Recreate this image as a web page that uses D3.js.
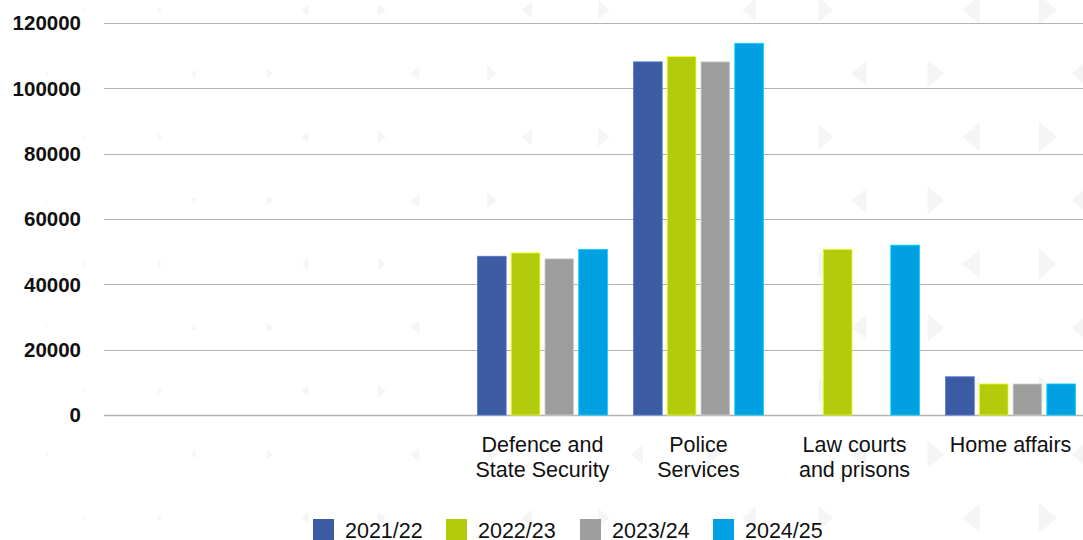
<!DOCTYPE html>
<html>
<head>
<meta charset="utf-8">
<script src="https://cdn.jsdelivr.net/npm/d3@7"></script>
<style>
  html, body { margin: 0; padding: 0; background: #fff; }
  svg { display: block; font-family: "Liberation Sans", Arial, sans-serif; }
</style>
</head>
<body>
<div class="container"></div>
<script>
const WIDTH = 1083
const HEIGHT = 540

// data
const categories = ['Defence and State Security', 'Police Services', 'Law courts and prisons', 'Home affairs']
const categoryLines = [['Defence and', 'State Security'], ['Police', 'Services'], ['Law courts', 'and prisons'], ['Home affairs']]
const years = ['2021/22', '2022/23', '2023/24', '2024/25']
const values2021 = [48600, 108100, null, 11700]
const values2022 = [49600, 109700, 50700, 9500]
const values2023 = [47800, 108100, null, 9500]
const values2024 = [50700, 113800, 52000, 9500]
const seriesValues = [values2021, values2022, values2023, values2024]
const colors = ['#3c5ba3', '#b2cb0b', '#9d9d9d', '#00a0e3']
const yTicks = [0, 20000, 40000, 60000, 80000, 100000, 120000]

const plotLeft = 104
const plotRight = 1083
const plotTop = 23
const plotBottom = 415

const svg = d3.select('.container').append('svg')
    .attr('width', WIDTH)
    .attr('height', HEIGHT)
    .attr('viewBox', `0 0 ${WIDTH} ${HEIGHT}`)

// faint triangle watermark in the background
const deco = svg.append('g').attr('fill', '#f5f5f5')
for (let row = 0; row < 9; row++) {
    const cy = 10 + row * 63.5
    const shift = row % 2 ? 110 : 0
    for (let col = -1; col < 6; col++) {
        const x0 = 83 + shift + col * 222
        ;[[x0, -1], [x0 + 77, 1]].forEach(([cx, dir]) => {
            if (cx < -20 || cx > WIDTH + 20) return
            const s = Math.max(2, 1.5 + cx / 75)
            deco.append('path')
                .attr('d', `M${cx - dir * s * 0.6},${cy - s} L${cx - dir * s * 0.6},${cy + s} L${cx + dir * s * 0.6},${cy} Z`)
        })
    }
}

const x = d3.scaleBand()
    .domain(categories)
    .range([464.5, 1088.5])
    .paddingInner(0.167)
    .paddingOuter(0.083)

const xInner = d3.scaleBand()
    .domain(years)
    .range([0, x.bandwidth()])
    .paddingInner(0.15)

const y = d3.scaleLinear()
    .domain([0, 120000])
    .range([plotBottom, plotTop])

// gridlines
svg.append('g')
    .selectAll('line')
    .data(yTicks)
    .join('line')
    .attr('x1', plotLeft)
    .attr('x2', plotRight)
    .attr('y1', d => Math.round(y(d)) + 0.5)
    .attr('y2', d => Math.round(y(d)) + 0.5)
    .attr('stroke', '#b3b3b3')
    .attr('stroke-width', d => d === 0 ? 1.6 : 1.2)

// y labels
svg.append('g')
    .attr('text-anchor', 'end')
    .attr('font-weight', 'bold')
    .attr('font-size', '20.5px')
    .selectAll('text')
    .data(yTicks)
    .join('text')
    .attr('x', 81)
    .attr('y', d => y(d))
    .attr('dy', '0.36em')
    .attr('fill', '#111')
    .text(d => d)

// bars
const group = svg.append('g')
    .selectAll('g')
    .data(categories)
    .join('g')
    .attr('transform', d => `translate(${x(d)},0)`)

group.selectAll('rect')
    .data((d, i) => years.map((yr, j) => ({ yr, j, v: seriesValues[j][i] })).filter(e => e.v != null))
    .join('rect')
    .attr('x', d => xInner(d.yr))
    .attr('width', xInner.bandwidth())
    .attr('y', d => y(d.v))
    .attr('height', d => y(0) - y(d.v))
    .attr('fill', d => colors[d.j])
    .attr('stroke', d => d3.color(colors[d.j]).brighter(0.8))
    .attr('stroke-width', 0.8)

// category labels
svg.append('g')
    .attr('text-anchor', 'middle')
    .attr('font-size', '21.5px')
    .attr('fill', '#111')
    .selectAll('text')
    .data(categories)
    .join('text')
    .attr('x', d => x(d) + x.bandwidth() / 2)
    .attr('y', 452)
    .selectAll('tspan')
    .data((d, i) => categoryLines[i])
    .join('tspan')
    .attr('x', function () { return d3.select(this.parentNode).attr('x') })
    .attr('dy', (d, i) => i === 0 ? 0 : 25)
    .text(d => d)

// legend
const legendX = [313, 446, 580, 713]
const legend = svg.append('g')
    .selectAll('g')
    .data(years)
    .join('g')
    .attr('transform', (d, i) => `translate(${legendX[i]},519)`)

legend.append('rect')
    .attr('width', 21)
    .attr('height', 21)
    .attr('fill', (d, i) => colors[i])

legend.append('text')
    .attr('x', 32)
    .attr('y', 19)
    .attr('font-size', '21.5px')
    .attr('fill', '#111')
    .text(d => d)
</script>
</body>
</html>
